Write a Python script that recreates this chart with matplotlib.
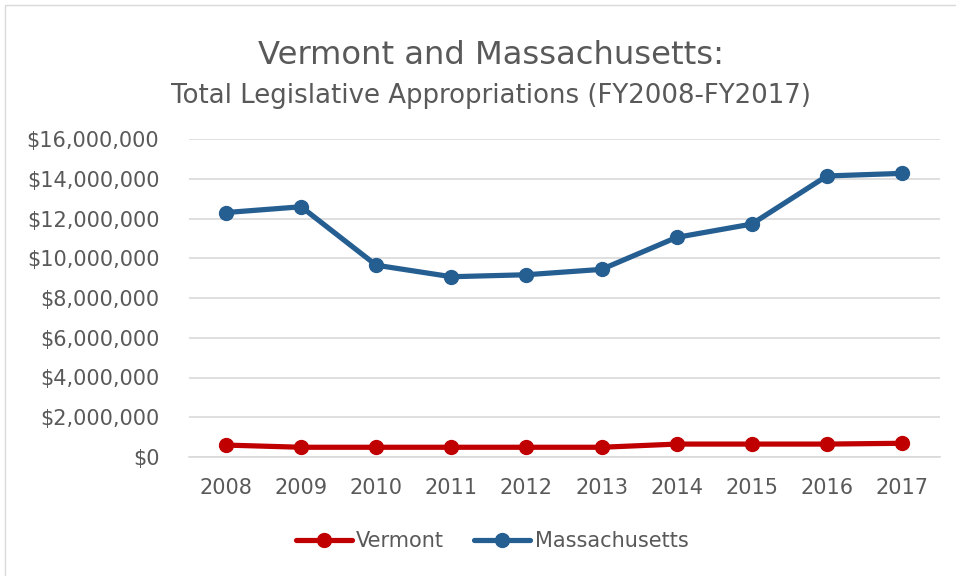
import matplotlib
matplotlib.use("Agg")
import matplotlib.pyplot as plt
from matplotlib.ticker import FuncFormatter
from matplotlib.patches import Rectangle

years = ["2008", "2009", "2010", "2011", "2012", "2013", "2014", "2015", "2016", "2017"]
vermont = [600000, 490000, 490000, 490000, 490000, 490000, 650000, 650000, 650000, 690000]
massachusetts = [12300000, 12590000, 9650000, 9070000, 9170000, 9440000, 11050000, 11720000, 14140000, 14270000]
yticks = [0, 2000000, 4000000, 6000000, 8000000, 10000000, 12000000, 14000000, 16000000]

plt.rcParams['font.family'] = ['DejaVu Sans']
text_color = '#595959'

fig = plt.figure(figsize=(9.56, 5.76), dpi=100)
fig.patches.append(Rectangle((5/956, -0.01), 1.0, 1 - 5/576 + 0.01, transform=fig.transFigure,
                             fill=False, edgecolor='#d9d9d9', linewidth=1.0))
ax = fig.add_axes([188.5/956, 1 - 457/576, (939.5-188.5)/956, (457-139)/576])

x = list(range(len(years)))
ax.plot(x, vermont, color='#c00000', linewidth=3.75, marker='o', markersize=10, label='Vermont',
        solid_capstyle='round')
ax.plot(x, massachusetts, color='#255e91', linewidth=3.75, marker='o', markersize=10, label='Massachusetts',
        solid_capstyle='round')

ax.set_xlim(-0.5, len(years) - 0.5)
ax.set_ylim(0, 16000000)
ax.set_yticks(yticks)
ax.yaxis.set_major_formatter(FuncFormatter(lambda v, p: "${:,.0f}".format(v)))
ax.set_xticks(x)
ax.set_xticklabels(years)
ax.grid(axis='y', color='#d9d9d9', linewidth=1.2)
ax.set_axisbelow(True)
for s in ['top', 'right', 'left']:
    ax.spines[s].set_visible(False)
ax.spines['bottom'].set_color('#d9d9d9')
ax.spines['bottom'].set_linewidth(1.2)
ax.tick_params(axis='both', length=0, labelsize=15, colors=text_color)
ax.tick_params(axis='x', pad=15)
ax.tick_params(axis='y', pad=21)

fig.text(490.5/956, 1 - 64/576, "Vermont and Massachusetts:", ha='center', va='baseline',
         fontsize=23.25, color=text_color)
fig.text(491.5/956, 1 - 103/576, "Total Legislative Appropriations (FY2008-FY2017)", ha='center',
         va='baseline', fontsize=18.75, color=text_color)

leg = fig.legend(loc='center', bbox_to_anchor=(492/956, 1 - 541/576), ncol=2, frameon=False,
                 fontsize=15, handlelength=2.7, columnspacing=1.45, handletextpad=0.2,
                 labelcolor=text_color, borderpad=0, borderaxespad=0)

fig.savefig("out.png", dpi=100)
